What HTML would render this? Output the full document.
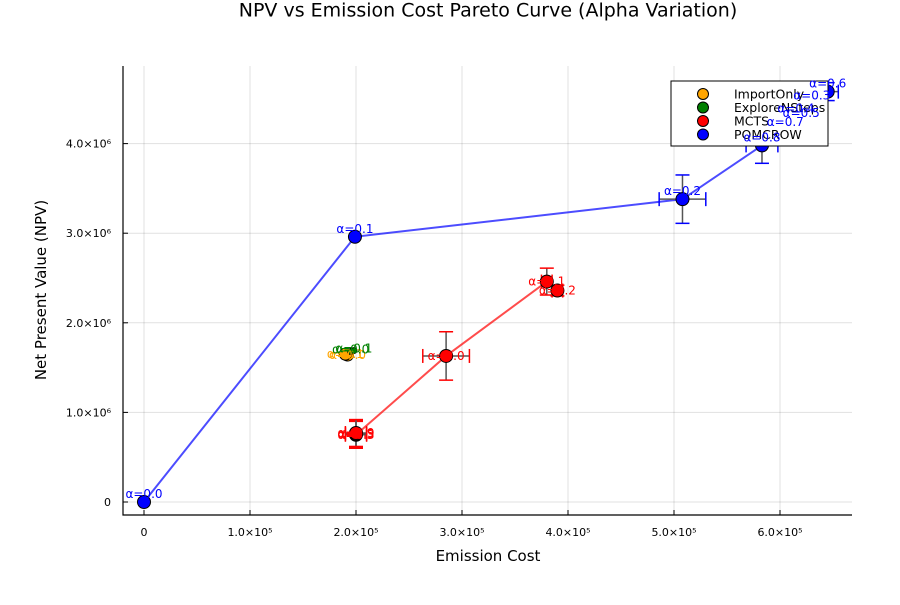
<!DOCTYPE html>
<html><head><meta charset="utf-8"><style>
body{margin:0;background:#fff;font-family:"Liberation Sans","DejaVu Sans",sans-serif}
svg text{font-family:"DejaVu Sans","Liberation Sans",sans-serif}
</style></head><body>
<svg id="c" width="900" height="600" viewBox="0 0 900 600" xmlns="http://www.w3.org/2000/svg">
<rect width="900" height="600" fill="#fff"/>
<text x="488" y="3" font-size="19" text-anchor="middle" dominant-baseline="hanging">NPV vs Emission Cost Pareto Curve (Alpha Variation)</text>
<g id="grid"></g>
<g id="axes"></g>
<g id="series"></g>
<text x="488" y="561" font-size="15" text-anchor="middle">Emission Cost</text>
<text transform="translate(46,290) rotate(-90)" font-size="15" text-anchor="middle">Net Present Value (NPV)</text>
<g id="legend"></g>
<g id="labels"></g>
</svg>
<script>
const xTicks=[0,1e5,2e5,3e5,4e5,5e5,6e5];
const xTickLabels=["0","1.0×10⁵","2.0×10⁵","3.0×10⁵","4.0×10⁵","5.0×10⁵","6.0×10⁵"];
const yTicks=[0,1e6,2e6,3e6,4e6];
const yTickLabels=["0","1.0×10⁶","2.0×10⁶","3.0×10⁶","4.0×10⁶"];
const pomX=[0,1.99e5,5.08e5,5.83e5,6.05e5,6.15e5,6.2e5,6.3e5,6.45e5];
const pomY=[0,2.96e6,3.38e6,3.98e6,4.15e6,4.3e6,4.25e6,4.45e6,4.58e6];
const pomA=["0.0","0.1","0.2","0.8","0.7","0.4","0.5","0.3","0.6"];
const pomErrX=[0,0,2.2e4,1.5e4,1e4,1e4,1e4,1e4,1e4];
const pomErrY=[0,0,2.7e5,2e5,1e5,1e5,1e5,1e5,1e5];
const mctsX=[2.0e5,2.85e5,3.8e5,3.9e5,2.0e5,2.0e5];
const mctsY=[0.75e6,1.63e6,2.46e6,2.36e6,0.76e6,0.77e6];
const mctsA=["0.3","0.0","0.1","0.2","0.5","0.9"];
const mctsErrX=[1e4,2.2e4,5e3,5e3,1e4,1e4];
const mctsErrY=[1.5e5,2.7e5,1.5e5,6e4,1.5e5,1.5e5];
const impX=[1.92e5,1.9e5];const impY=[1.64e6,1.65e6];
const expX=[1.95e5,1.98e5];const expY=[1.68e6,1.69e6];
const L=123,R=852,T=66,B=515;
const sx=v=>144+v*106/1e5, sy=v=>502-v*89.6/1e6;
const NS="http://www.w3.org/2000/svg";
function mk(p,t,a,txt){const e=document.createElementNS(NS,t);for(const k in a)e.setAttribute(k,a[k]);if(txt!==undefined)e.textContent=txt;p.appendChild(e);return e;}
const G=document.getElementById('grid'),A=document.getElementById('axes'),S=document.getElementById('series'),LG=document.getElementById('legend'),LB=document.getElementById('labels');
xTicks.forEach((v,i)=>{const x=sx(v);
 const g=mk(G,'line',{x1:x,x2:x,y1:T,y2:B,stroke:'#000','stroke-opacity':0.12});
 mk(A,'line',{x1:x,x2:x,y1:B,y2:B-5,stroke:'#000'});
 const t=mk(A,'text',{x:x,y:536,'font-size':11,'text-anchor':'middle'},xTickLabels[i]);});
yTicks.forEach((v,i)=>{const y=sy(v);
 const g=mk(G,'line',{x1:L,x2:R,y1:y,y2:y,stroke:'#000','stroke-opacity':0.12});
 mk(A,'line',{x1:L,x2:L+5,y1:y,y2:y,stroke:'#000'});
 const t=mk(A,'text',{x:L-12,y:y+4,'font-size':11,'text-anchor':'end'},yTickLabels[i]);});
mk(A,'path',{d:`M${L},${T} V${B} H${R}`,stroke:'#000',fill:'none','stroke-width':1.2});
function line(xs,ys,col){const pts=xs.map((x,i)=>sx(x)+','+sy(ys[i])).join(' ');const p=mk(S,'polyline',{points:pts,fill:'none',stroke:col,'stroke-opacity':0.7,'stroke-width':2});}
function err(xs,ys,ex,ey,col){xs.forEach((x,i)=>{const cx=sx(x),cy=sy(ys[i]);const dx=ex[i]*106/1e5,dy=ey[i]*89.6/1e6;
 if(dy>0){mk(S,'line',{x1:cx,x2:cx,y1:cy-dy,y2:cy+dy,stroke:'#555','stroke-width':1.5});mk(S,'line',{x1:cx-7,x2:cx+7,y1:cy-dy,y2:cy-dy,stroke:col,'stroke-width':1.5});mk(S,'line',{x1:cx-7,x2:cx+7,y1:cy+dy,y2:cy+dy,stroke:col,'stroke-width':1.5});}
 if(dx>0){mk(S,'line',{x1:cx-dx,x2:cx+dx,y1:cy,y2:cy,stroke:'#555','stroke-width':1.5});mk(S,'line',{x1:cx-dx,x2:cx-dx,y1:cy-7,y2:cy+7,stroke:col,'stroke-width':1.5});mk(S,'line',{x1:cx+dx,x2:cx+dx,y1:cy-7,y2:cy+7,stroke:col,'stroke-width':1.5});}});}
function pts(xs,ys,col,r,labels,dy){xs.forEach((x,i)=>{const c=mk(S,'circle',{cx:sx(x),cy:sy(ys[i]),r:r,fill:col,stroke:'#000','stroke-width':1});
 if(labels){const t=mk(LB,'text',{x:sx(x),y:sy(ys[i])+dy,'font-size':12,'text-anchor':'middle',fill:col},'α='+labels[i]);}});}
line(pomX.slice(0,4),pomY.slice(0,4),'blue');
line(mctsX.slice(0,3),mctsY.slice(0,3),'red');
err(pomX,pomY,pomErrX,pomErrY,'blue');
err(mctsX,mctsY,mctsErrX,mctsErrY,'red');
pts(impX,impY,'orange',6,["0.0","0.1"],4);
pts(expX,expY,'green',3,["0.0","0.1"],2);
pts(mctsX,mctsY,'red',6.5,mctsA,4);
pts(pomX,pomY,'blue',6.5,pomA,-4);
mk(LG,'rect',{x:671,y:81,width:157,height:65,fill:'#fff',stroke:'#000','stroke-width':1});
const lgNames=["ImportOnly","ExploreNSteps","MCTS","POMCROW"],lgCols=["orange","green","red","blue"];
lgNames.forEach((n,i)=>{const y=94+i*13.5;mk(LG,'circle',{cx:703,cy:y,r:5.5,fill:lgCols[i],stroke:'#000'});
 const t=mk(LG,'text',{x:734,y:y+4.5,'font-size':12.5},n);});
</script>
</body></html>
